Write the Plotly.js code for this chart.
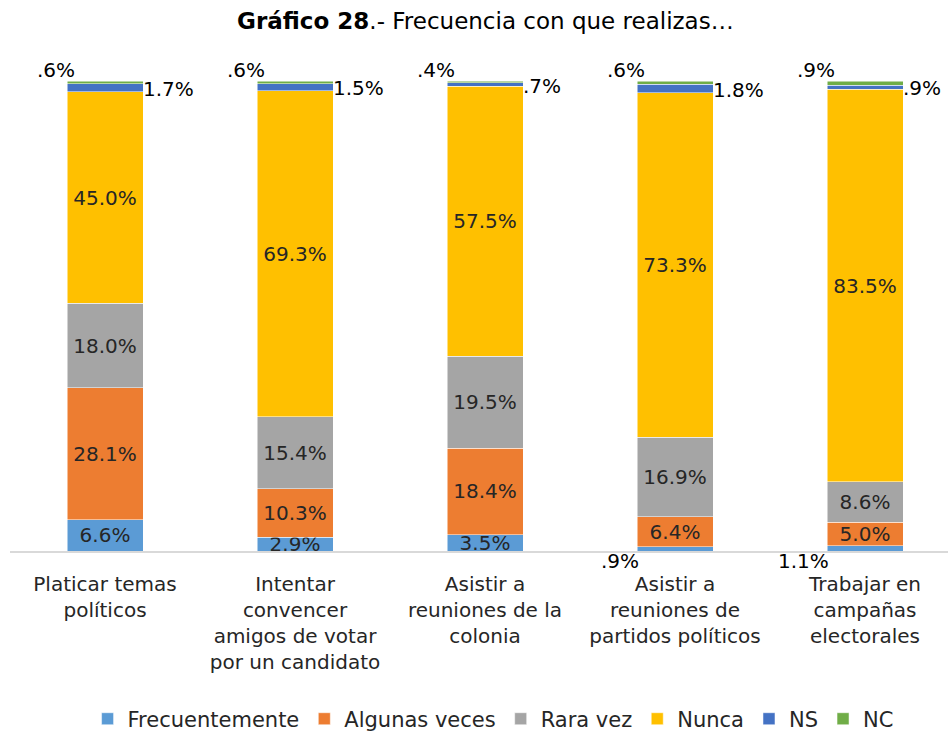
<!DOCTYPE html>
<html>
<head>
<meta charset="utf-8">
<script src="https://cdn.plot.ly/plotly-3.0.1.min.js"></script>
<style>
  body { margin: 0; background: #fff; }
  #chart { width: 948px; height: 733px; }
</style>
</head>
<body>
<div id="chart"></div>
<script>
const categories = [
  'Platicar temas<br>políticos',
  'Intentar<br>convencer<br>amigos de votar<br>por un candidato',
  'Asistir a<br>reuniones de la<br>colonia',
  'Asistir a<br>reuniones de<br>partidos políticos',
  'Trabajar en<br>campañas<br>electorales'
];
const frecuentemente = [6.6, 2.9, 3.5, 0.9, 1.1];
const algunasVeces = [28.1, 10.3, 18.4, 6.4, 5.0];
const raraVez = [18.0, 15.4, 19.5, 16.9, 8.6];
const nunca = [45.0, 69.3, 57.5, 73.3, 83.5];
const ns = [1.7, 1.5, 0.7, 1.8, 0.9];
const nc = [0.6, 0.6, 0.4, 0.6, 0.9];

const seriesNames = ['Frecuentemente', 'Algunas veces', 'Rara vez', 'Nunca', 'NS', 'NC'];
const seriesValues = [frecuentemente, algunasVeces, raraVez, nunca, ns, nc];
const seriesColors = ['#5B9BD5', '#ED7D31', '#A5A5A5', '#FFC000', '#4472C4', '#70AD47'];

const fontFamily = '"DejaVu Sans", Lato, sans-serif';
const textColor = '#262626';

function fmt(v) {
  return v.toFixed(1).replace(/^0\./, '.') + '%';
}

const xs = categories.map((c, i) => i);

const traces = seriesValues.map((vals, s) => ({
  type: 'bar',
  name: seriesNames[s],
  x: xs,
  y: vals,
  width: 0.4,
  marker: { color: seriesColors[s], line: { color: '#ffffff', width: 0.5 } },
  text: vals.map(v => (s < 4 && v >= 2 ? fmt(v) : '')),
  textposition: 'inside',
  insidetextanchor: 'middle',
  constraintext: 'none',
  textfont: { family: fontFamily, size: 20, color: textColor },
  hoverinfo: 'name+y'
}));

const annotations = [];
xs.forEach(i => {
  // small Frecuentemente values sit below-left of the bar
  if (frecuentemente[i] < 2) {
    annotations.push({
      x: i - 0.2, y: 0, xref: 'x', yref: 'y',
      text: fmt(frecuentemente[i]), showarrow: false,
      xanchor: 'right', yanchor: 'top', xshift: 4, yshift: 4,
      font: { family: fontFamily, size: 20, color: '#000' }
    });
  }
  const belowNs = frecuentemente[i] + algunasVeces[i] + raraVez[i] + nunca[i];
  annotations.push({
    x: i + 0.2, y: belowNs + ns[i] / 2, xref: 'x', yref: 'y',
    text: fmt(ns[i]), showarrow: false,
    xanchor: 'left', yanchor: 'middle', xshift: -2, yshift: -1,
    font: { family: fontFamily, size: 20, color: '#000' }
  });
  // keep the label inside the axis range (rounding may push it past 100)
  const total = Math.min(100, belowNs + ns[i] + nc[i]);
  annotations.push({
    x: i - 0.2, y: total, xref: 'x', yref: 'y',
    text: fmt(nc[i]), showarrow: false,
    xanchor: 'right', yanchor: 'bottom', xshift: 10, yshift: -3,
    font: { family: fontFamily, size: 20, color: '#000' }
  });
});

const layout = {
  width: 948,
  height: 733,
  barmode: 'stack',
  bargap: 0.6,
  paper_bgcolor: '#fff',
  plot_bgcolor: '#fff',
  margin: { l: 10, r: 0, t: 81, b: 182 },
  title: {
    text: '<b>Gráfico 28</b>.- Frecuencia con que realizas…',
    font: { family: fontFamily, size: 23, color: '#000' },
    x: 0.512, xanchor: 'center', y: 0.972, yanchor: 'middle'
  },
  xaxis: {
    range: [-0.5, -0.5 + 938 / 190],
    tickvals: xs,
    ticktext: categories,
    tickfont: { family: fontFamily, size: 20, color: textColor },
    ticklabelstandoff: 14,
    showline: true,
    linecolor: '#D9D9D9',
    linewidth: 2,
    showgrid: false,
    zeroline: false,
    ticks: '',
    fixedrange: true
  },
  yaxis: {
    range: [0, 100],
    visible: false,
    showgrid: false,
    zeroline: false,
    fixedrange: true
  },
  legend: {
    orientation: 'h',
    x: 0.515, xanchor: 'center',
    yref: 'container',
    y: 0.019, yanchor: 'middle',
    font: { family: fontFamily, size: 21, color: textColor },
    traceorder: 'normal',
    itemwidth: 30
  },
  annotations: annotations,
  showlegend: true
};

Plotly.newPlot('chart', traces, layout, { displayModeBar: false, staticPlot: true });
</script>
</body>
</html>
